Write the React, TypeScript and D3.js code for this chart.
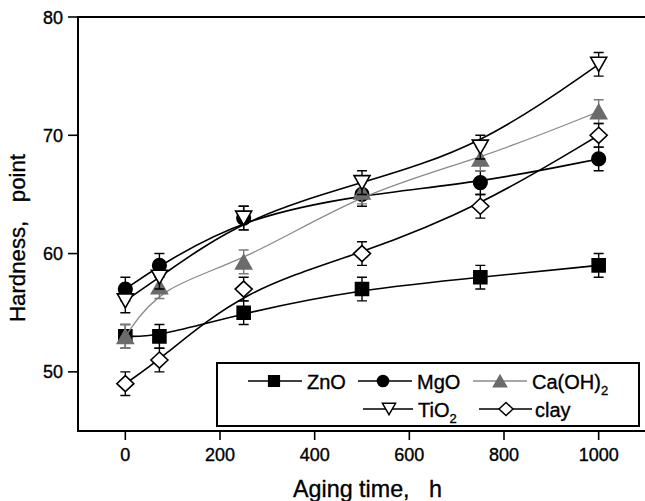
import React, { useRef, useEffect } from 'react';
import * as d3 from 'd3';

// aging time (h) at which hardness was measured
const times = [0, 72, 250, 500, 750, 1000];

// hardness values per filler
const znO = [53, 53, 55, 57, 58, 59];
const mgO = [57, 59, 63, 65, 66, 68];
const caOH2 = [53, 57.2, 59.3, 65.2, 68, 72];
const tiO2 = [56, 58, 63, 66, 69, 76];
const clay = [49, 51, 57, 60, 64, 70];
const errorBar = [1, 1, 1, 1, 1, 1];

const xTicks = [0, 200, 400, 600, 800, 1000];
const yTicks = [50, 60, 70, 80];

type Shape = 'square' | 'circle' | 'triUp' | 'triDown' | 'diamond';

interface Series {
  name: string;
  sub?: string;
  values: number[];
  shape: Shape;
  fill: string;
  stroke: string;
  line: string;
  lineWidth: number;
}

const series: Series[] = [
  { name: 'ZnO', values: znO, shape: 'square', fill: '#000', stroke: '#000', line: '#000', lineWidth: 1.6 },
  { name: 'MgO', values: mgO, shape: 'circle', fill: '#000', stroke: '#000', line: '#000', lineWidth: 1.6 },
  { name: 'Ca(OH)', sub: '2', values: caOH2, shape: 'triUp', fill: '#6b6b6b', stroke: '#6b6b6b', line: '#8a8a8a', lineWidth: 1.3 },
  { name: 'TiO', sub: '2', values: tiO2, shape: 'triDown', fill: '#fff', stroke: '#000', line: '#000', lineWidth: 1.6 },
  { name: 'clay', values: clay, shape: 'diamond', fill: '#fff', stroke: '#000', line: '#000', lineWidth: 1.6 },
];

// legend slots: line start/end, marker centre, text start, row
const legendSlots = [
  { x0: 248, x1: 302, mx: 274, tx: 307, row: 0 },
  { x0: 358, x1: 412, mx: 383, tx: 417, row: 0 },
  { x0: 473, x1: 527, mx: 500, tx: 532, row: 0 },
  { x0: 363, x1: 413, mx: 389, tx: 418, row: 1 },
  { x0: 479, x1: 532, mx: 506, tx: 535, row: 1 },
];

const FONT = '"Liberation Sans", Arial, Helvetica, sans-serif';

function markerPath(shape: Shape, k: number): string {
  switch (shape) {
    case 'square': {
      const h = 6.5 * k;
      return `M${-h},${-h}H${h}V${h}H${-h}Z`;
    }
    case 'circle': {
      const r = 6.8 * k;
      return `M${-r},0A${r},${r} 0 1,0 ${r},0A${r},${r} 0 1,0 ${-r},0Z`;
    }
    case 'triUp':
      return `M0,${-7 * k}L${8 * k},${7 * k}L${-8 * k},${7 * k}Z`;
    case 'triDown':
      return `M${-8 * k},${-7 * k}L${8 * k},${-7 * k}L0,${7 * k}Z`;
    case 'diamond':
      return `M0,${-8 * k}L${8.5 * k},0L0,${8 * k}L${-8.5 * k},0Z`;
  }
}

const HardnessChart: React.FC<{ width?: number; height?: number }> = ({ width = 645, height = 501 }) => {
  const svgRef = useRef<SVGSVGElement | null>(null);

  useEffect(() => {
    const margin = { top: 17, right: -1, bottom: 70, left: 78 };
    const innerWidth = width - margin.left - margin.right;
    const innerHeight = height - margin.top - margin.bottom;

    d3.select(svgRef.current).selectAll('*').remove();

    const svg = d3.select(svgRef.current).attr('width', width).attr('height', height);

    const x = d3.scaleLinear().domain([-100, 1100]).range([0, innerWidth]);
    const y = d3.scaleLinear().domain([45, 80]).range([innerHeight, 0]);

    const g = svg.append('g').attr('transform', `translate(${margin.left},${margin.top})`);

    // frame
    g.append('rect')
      .attr('width', innerWidth)
      .attr('height', innerHeight)
      .attr('fill', 'none')
      .attr('stroke', '#000')
      .attr('stroke-width', 2);

    // x ticks
    g.selectAll('.xtick')
      .data(xTicks)
      .enter()
      .append('line')
      .attr('x1', d => x(d))
      .attr('x2', d => x(d))
      .attr('y1', innerHeight)
      .attr('y2', innerHeight + 9)
      .attr('stroke', '#000')
      .attr('stroke-width', 1.6);

    g.selectAll('.xlabel')
      .data(xTicks)
      .enter()
      .append('text')
      .attr('x', d => x(d))
      .attr('y', innerHeight + 30)
      .attr('text-anchor', 'middle')
      .attr('font-family', FONT)
      .attr('font-size', 18)
      .attr('stroke', '#000')
      .attr('stroke-width', 0.35)
      .text(d => String(d));

    // y ticks
    g.selectAll('.ytick')
      .data(yTicks)
      .enter()
      .append('line')
      .attr('x1', -10)
      .attr('x2', 0)
      .attr('y1', d => y(d))
      .attr('y2', d => y(d))
      .attr('stroke', '#000')
      .attr('stroke-width', 1.6);

    g.selectAll('.ylabel')
      .data(yTicks)
      .enter()
      .append('text')
      .attr('x', -15)
      .attr('y', d => y(d) + 6.5)
      .attr('text-anchor', 'end')
      .attr('font-family', FONT)
      .attr('font-size', 18)
      .attr('stroke', '#000')
      .attr('stroke-width', 0.35)
      .text(d => String(d));

    // axis titles
    svg.append('text')
      .attr('x', 293)
      .attr('y', 497)
      .attr('font-family', FONT)
      .attr('font-size', 24)
      .attr('textLength', 149)
      .attr('lengthAdjust', 'spacingAndGlyphs')
      .attr('stroke', '#000')
      .attr('stroke-width', 0.35)
      .style('white-space', 'pre')
      .text('Aging time,   h');

    svg.append('text')
      .attr('transform', 'translate(25,322) rotate(-90)')
      .attr('font-family', FONT)
      .attr('font-size', 22)
      .attr('textLength', 168)
      .attr('lengthAdjust', 'spacingAndGlyphs')
      .attr('stroke', '#000')
      .attr('stroke-width', 0.35)
      .style('white-space', 'pre')
      .text('Hardness,   point');

    const line = d3
      .line<number>()
      .x((_, i) => x(times[i]))
      .y(d => y(d))
      .curve(d3.curveBasis);

    series.forEach(s => {
      const sg = g.append('g');

      sg.append('path')
        .attr('d', line(s.values))
        .attr('fill', 'none')
        .attr('stroke', s.line)
        .attr('stroke-width', s.lineWidth);

      const barColor = s.shape === 'triUp' ? '#7a7a7a' : '#000';
      s.values.forEach((v, i) => {
        const cx = x(times[i]);
        const e = errorBar[i];
        sg.append('path')
          .attr(
            'd',
            `M${cx},${y(v - e)}V${y(v + e)}M${cx - 5},${y(v + e)}H${cx + 5}M${cx - 5},${y(v - e)}H${cx + 5}`
          )
          .attr('fill', 'none')
          .attr('stroke', barColor)
          .attr('stroke-width', 1.4);
      });

      sg.selectAll('.marker')
        .data(s.values)
        .enter()
        .append('path')
        .attr('d', markerPath(s.shape, 1))
        .attr('transform', (d, i) => `translate(${x(times[i])},${y(d)})`)
        .attr('fill', s.fill)
        .attr('stroke', s.stroke)
        .attr('stroke-width', 1.6);
    });

    // legend
    const lg = svg.append('g');
    lg.append('rect')
      .attr('x', 217)
      .attr('y', 363)
      .attr('width', 422)
      .attr('height', 63)
      .attr('fill', '#fff')
      .attr('stroke', '#000')
      .attr('stroke-width', 2);

    const rowY = [381, 409];
    series.forEach((s, i) => {
      const slot = legendSlots[i];
      const cy = rowY[slot.row];
      lg.append('line')
        .attr('x1', slot.x0)
        .attr('x2', slot.x1)
        .attr('y1', cy)
        .attr('y2', cy)
        .attr('stroke', s.line)
        .attr('stroke-width', s.lineWidth);
      lg.append('path')
        .attr('d', markerPath(s.shape, 0.82))
        .attr('transform', `translate(${slot.mx},${cy})`)
        .attr('fill', s.fill)
        .attr('stroke', s.stroke)
        .attr('stroke-width', 1.5);
      const t = lg.append('text')
        .attr('x', slot.tx)
        .attr('y', cy + 7.5)
        .attr('font-family', FONT)
        .attr('font-size', 20)
        .attr('stroke', '#000')
        .attr('stroke-width', 0.35)
        .text(s.name);
      if (s.sub) {
        t.append('tspan').attr('font-size', 13).attr('dy', 6).text(s.sub);
      }
    });
  }, [width, height]);

  return <svg ref={svgRef} style={{ position: 'absolute', left: 0, top: 0, background: '#fff' }}></svg>;
};

export default function App() {
  return <HardnessChart />;
}
